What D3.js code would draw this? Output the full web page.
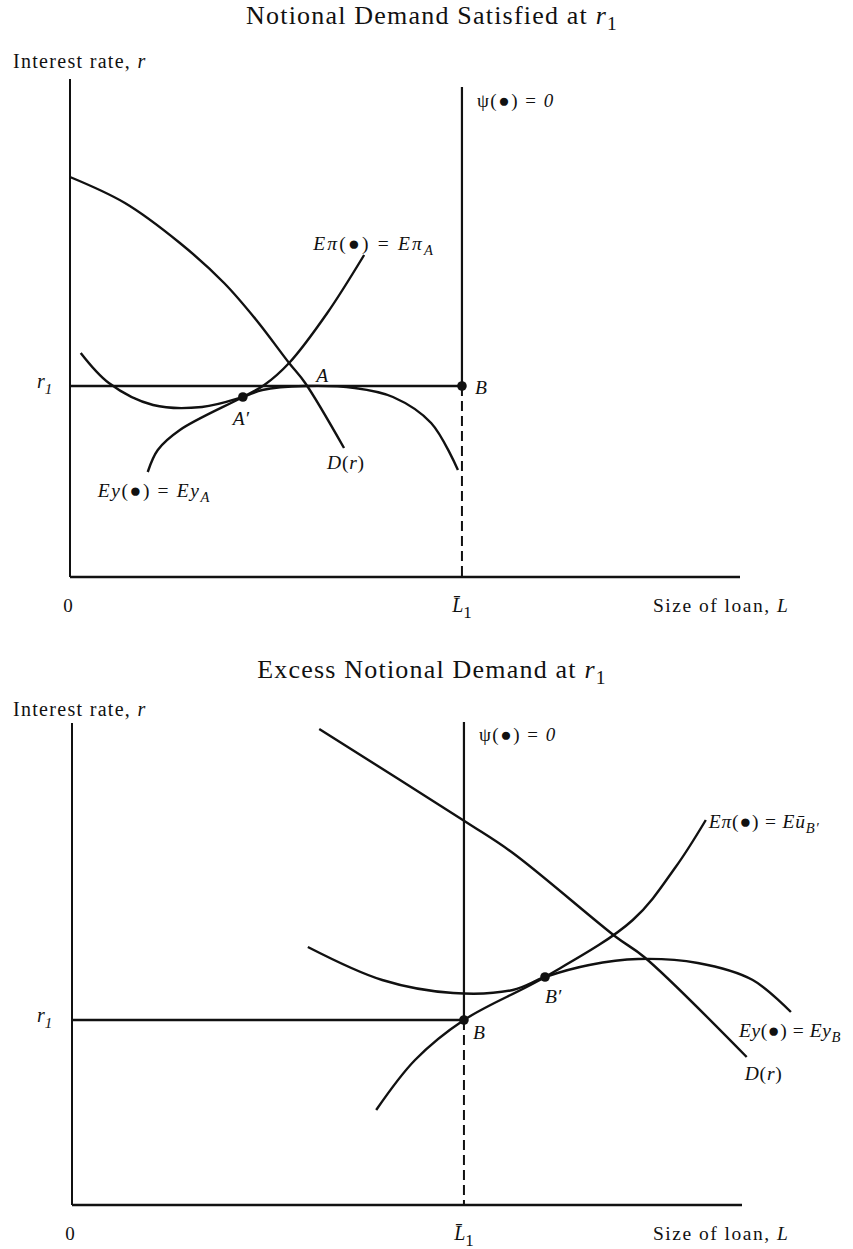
<!DOCTYPE html>
<html lang="en">
<head>
<meta charset="UTF-8">
<title>Notional Demand</title>
<script src="https://d3js.org/d3.v7.min.js"></script>
<style>
  body { margin: 0; background: #fff; }
  svg text { font-family: 'Liberation Serif', 'DejaVu Serif', serif; fill: #111; }
</style>
</head>
<body>
<div id="chart"></div>
<script>
// ---- data: L on x (0..100), r on y (0..100) ----
// top panel: notional demand satisfied at r1
const topLbar = 58.5, topR1 = 38.2;
const topDemand = [[0,80],[8.2,74.8],[16.4,66.8],[23,58.8],[27.8,51.4],[32.7,42.8],[35.1,38.8],[40.9,25.8]];
const topProfit = [[11.6,21],[13.1,25.4],[16.4,29.4],[25.8,36],[29,38.4],[32.7,42.8],[38.4,52.8],[43.9,64.4]];
const topYield = [[1.6,44.8],[5.8,38.8],[12.4,34.4],[19.7,34],[25.8,36],[28.7,37.4],[35.1,38.2],[42.5,37.8],[48.2,36],[53.9,30.8],[57.9,21.4]];
const topAprime = [25.8, 36];
const topA = [35.1, 38.2];

// bottom panel: excess notional demand at r1
const botLbar = 58.5, botR1 = 37;
const botDemand = [[36.9,95.2],[58.8,76.6],[65.8,70.4],[81.2,53.6],[85.4,49.6],[100.7,29.6]];
const botProfit = [[45.4,19],[51.2,29],[58.5,37],[70.6,45.6],[83.7,57],[90.1,67.6],[94.6,77]];
const botYield = [[35.2,51.6],[46.3,45],[56.9,42.4],[65.8,43],[70.6,45.6],[77.2,48],[84.5,49.2],[93.4,48.4],[101.6,45],[107.3,38.6]];
const botBprime = [70.6, 45.6];

const svg = d3.select('#chart').append('svg').attr('width', 853).attr('height', 1249);

function tspans(sel, parts) {
  // parts: [text, italic, shift, size]
  parts.forEach(p => {
    const t = sel.append('tspan').text(p[0]);
    if (p[1]) t.attr('font-style', 'italic');
    if (p[2]) t.attr('baseline-shift', p[2]).attr('font-size', p[3] || '0.8em');
  });
}

function panel(o) {
  const g = svg.append('g');
  const x = d3.scaleLinear().domain([0, 100]).range(o.xr);
  const y = d3.scaleLinear().domain([0, 100]).range(o.yr);
  const line = d3.line().x(d => x(d[0])).y(d => y(d[1])).curve(d3.curveCatmullRom.alpha(0.5));

  // title
  const t = g.append('text').attr('x', 432).attr('y', o.titleY)
    .attr('text-anchor', 'middle').attr('font-size', 26).attr('letter-spacing', 1.2);
  tspans(t, [[o.title + ' ', false], ['r', true], ['1', false, '-30%', '0.75em']]);

  const yl = g.append('text').attr('x', 13).attr('y', o.ylabY).attr('font-size', 20).attr('letter-spacing', 1.3);
  tspans(yl, [['Interest rate, ', false], ['r', true]]);

  // axes
  g.append('line').attr('x1', x(0)).attr('x2', x(0)).attr('y1', y(0)).attr('y2', y(o.yTop))
    .attr('stroke', '#111').attr('stroke-width', 2);
  g.append('line').attr('x1', x(0)).attr('x2', x(100)).attr('y1', y(0)).attr('y2', y(0))
    .attr('stroke', '#111').attr('stroke-width', 2.4);

  // psi = 0 line, solid above B, dashed below
  g.append('line').attr('x1', x(o.Lbar)).attr('x2', x(o.Lbar)).attr('y1', y(o.psiTop)).attr('y2', y(o.r1))
    .attr('stroke', '#111').attr('stroke-width', 2.2);
  g.append('line').attr('x1', x(o.Lbar)).attr('x2', x(o.Lbar)).attr('y1', y(o.r1)).attr('y2', y(0))
    .attr('stroke', '#111').attr('stroke-width', 2).attr('stroke-dasharray', '10,5');
  const ps = g.append('text').attr('x', x(o.Lbar) + 15).attr('y', y(o.psiTop) + o.psiDy)
    .attr('font-size', 19).attr('letter-spacing', 1.5);
  tspans(ps, [['\u03C8(\u25CF) = ', false], ['0', true]]);

  // r1 line
  g.append('line').attr('x1', x(0)).attr('x2', x(o.Lbar)).attr('y1', y(o.r1)).attr('y2', y(o.r1))
    .attr('stroke', '#111').attr('stroke-width', 2.4);
  const rl = g.append('text').attr('x', 37).attr('y', y(o.r1) + 2).attr('font-size', 20);
  tspans(rl, [['r', true], ['1', true, '-40%', '0.75em']]);

  // curves
  [o.demand, o.profit, o.yld].forEach(d => {
    g.append('path').datum(d).attr('d', line).attr('fill', 'none')
      .attr('stroke', '#111').attr('stroke-width', 2.4);
  });

  // points
  o.dots.forEach(d => {
    g.append('circle').attr('cx', x(d[0])).attr('cy', y(d[1])).attr('r', 4.8).attr('fill', '#111');
  });

  // axis labels
  const lb = y(0) + 35;
  g.append('text').attr('x', x(0) - 2).attr('y', lb).attr('text-anchor', 'middle').attr('font-size', 19).text('0');
  const lt = g.append('text').attr('x', x(o.Lbar)).attr('y', lb).attr('text-anchor', 'middle').attr('font-size', 20);
  tspans(lt, [['L\u0304', true], ['1', false, '-35%', '0.85em']]);
  const sl = g.append('text').attr('x', 653).attr('y', lb).attr('font-size', 19.5).attr('letter-spacing', 1.5);
  tspans(sl, [['Size of loan, ', false], ['L', true]]);

  // curve labels
  o.labels.forEach(l => {
    const tx = g.append('text').attr('x', x(l.at[0]) + l.dx).attr('y', y(l.at[1]) + l.dy)
      .attr('font-size', 19.5).attr('letter-spacing', l.ls || 0);
    tspans(tx, l.parts);
  });
}

panel({
  xr: [70, 740], yr: [577, 77], titleY: 24, ylabY: 68, title: 'Notional Demand Satisfied at',
  yTop: 99.6, psiTop: 98, psiDy: 20, Lbar: topLbar, r1: topR1,
  demand: topDemand, profit: topProfit, yld: topYield,
  dots: [topAprime, [topLbar, topR1]],
  labels: [
    {at: topProfit[topProfit.length - 1], dx: -51, dy: -5, ls: 2.2,
      parts: [['E\u03C0', true], ['(\u25CF) = ', false], ['E\u03C0', true], ['A', true, '-30%', '0.75em']]},
    {at: topProfit[0], dx: -50, dy: 25, ls: 1.6,
      parts: [['Ey', true], ['(\u25CF) = ', false], ['Ey', true], ['A', true, '-30%', '0.75em']]},
    {at: topDemand[topDemand.length - 1], dx: -17, dy: 21, ls: 0.8, parts: [['D', true], ['(', false], ['r', true], [')', false]]},
    {at: topA, dx: 11, dy: -4, parts: [['A', true]]},
    {at: topAprime, dx: -10, dy: 28, parts: [['A\u2032', true]]},
    {at: [topLbar, topR1], dx: 13, dy: 8, parts: [['B', true]]}
  ]
});

panel({
  xr: [72, 742], yr: [1205, 705], titleY: 678, ylabY: 716, title: 'Excess Notional Demand at',
  yTop: 96.4, psiTop: 96.6, psiDy: 19, Lbar: botLbar, r1: botR1,
  demand: botDemand, profit: botProfit, yld: botYield,
  dots: [botBprime, [botLbar, botR1]],
  labels: [
    {at: botProfit[botProfit.length - 1], dx: 3, dy: 8, ls: 0.8,
      parts: [['E\u03C0', true], ['(\u25CF) = ', false], ['E\u016B', true], ['B\u2032', true, '-30%', '0.75em']]},
    {at: botYield[botYield.length - 1], dx: -52, dy: 25, ls: 0.6,
      parts: [['Ey', true], ['(\u25CF) = ', false], ['Ey', true], ['B', true, '-30%', '0.75em']]},
    {at: botDemand[botDemand.length - 1], dx: -2, dy: 23, ls: 0.8, parts: [['D', true], ['(', false], ['r', true], [')', false]]},
    {at: [botLbar, botR1], dx: 9, dy: 19, parts: [['B', true]]},
    {at: botBprime, dx: 0, dy: 26, parts: [['B\u2032', true]]}
  ]
});
</script>
</body>
</html>
